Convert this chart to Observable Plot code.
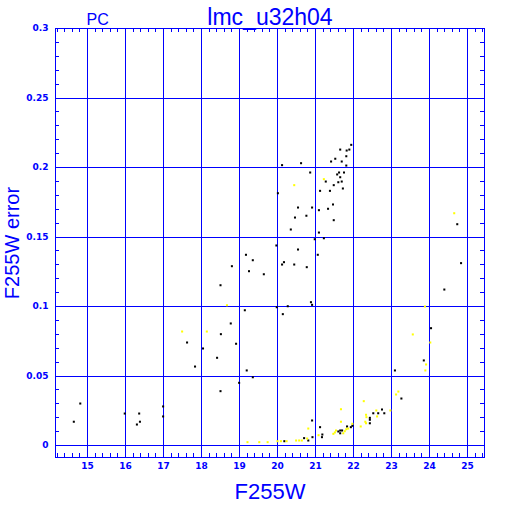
<!DOCTYPE html>
<html><head><meta charset="utf-8">
<script src="https://cdn.jsdelivr.net/npm/d3@7"></script>
<script src="https://cdn.jsdelivr.net/npm/@observablehq/plot@0.6"></script>
<style>body{margin:0;background:#fff}#chart svg{display:block}</style>
</head><body><div id="chart"></div>
<script>
// ---- data ----
const title = "lmc_u32h04";
const cornerLabel = "PC";
const xLabel = "F255W";
const yLabel = "F255W error";

const xTicks = [15, 16, 17, 18, 19, 20, 21, 22, 23, 24, 25];
const yTicks = [0, 0.05, 0.1, 0.15, 0.2, 0.25, 0.3];

// black points: magnitude and error
const blackMag = [21.94, 21.89, 21.82, 21.65, 21.81, 21.52, 21.41, 21.69, 21.81, 20.62,
  20.12, 20.86, 21.62, 21.75, 21.57, 21.65, 21.27, 21.60, 21.69, 21.48,
  21.72, 21.12, 21.38, 20.01, 21.46, 20.91, 20.54, 21.33, 21.09, 20.76,
  20.46, 21.48, 20.35, 21.09, 20.98, 21.22, 19.97, 20.54, 19.17, 19.35,
  21.06, 20.17, 20.12, 20.44, 20.77, 18.80, 19.25, 19.64, 18.50, 20.88,
  20.91, 19.98, 20.27, 19.14, 20.14, 18.77, 18.51, 18.91, 17.62, 18.04,
  18.41, 17.83, 18.50, 18.99, 14.81, 14.64, 15.98, 16.36, 16.38, 16.30,
  16.99, 16.99, 24.73, 24.83, 24.39, 24.04, 23.85, 23.09, 23.26, 22.75,
  22.81, 19.19, 19.35, 22.52, 22.65, 22.43, 22.43, 22.43, 20.91, 21.12,
  21.18, 21.17, 20.70, 20.81, 20.92, 20.18, 21.60, 21.65, 21.70, 21.65,
  21.83, 21.93, 21.97];
const blackErr = [0.2163, 0.2129, 0.2122, 0.2129, 0.2081, 0.2063, 0.2043, 0.2043, 0.2014, 0.2031,
  0.2017, 0.1964, 0.1964, 0.1964, 0.1950, 0.1930, 0.1899, 0.1894, 0.1899, 0.1873,
  0.1849, 0.1832, 0.1832, 0.1815, 0.1734, 0.1712, 0.1712, 0.1703, 0.1693, 0.1653,
  0.1640, 0.1621, 0.1554, 0.1532, 0.1484, 0.1491, 0.1439, 0.1410, 0.1372, 0.1333,
  0.1372, 0.1319, 0.1302, 0.1302, 0.1283, 0.1290, 0.1254, 0.1232, 0.1153, 0.1031,
  0.1012, 0.0995, 0.1002, 0.0973, 0.0945, 0.0878, 0.0801, 0.0732, 0.0741, 0.0698,
  0.0631, 0.0568, 0.0391, 0.0451, 0.0302, 0.0171, 0.0230, 0.0230, 0.0171, 0.0151,
  0.0281, 0.0209, 0.1592, 0.1312, 0.1122, 0.0844, 0.0612, 0.0540, 0.0338, 0.0259,
  0.0232, 0.0540, 0.0491, 0.0232, 0.0232, 0.0199, 0.0185, 0.0160, 0.0180, 0.0132,
  0.0079, 0.0060, 0.0053, 0.0036, 0.0060, 0.0031, 0.0101, 0.0108, 0.0108, 0.0088,
  0.0137, 0.0132, 0.0142];

// yellow points: magnitude and error
const yellowMag = [20.44, 21.22, 18.67, 17.49, 18.14, 24.65, 23.88, 23.56, 24.02, 23.91,
  23.89, 23.18, 23.12, 22.97, 22.27, 21.67, 21.67, 22.60, 22.33, 22.34,
  22.62, 22.31, 22.33, 22.19, 20.81, 21.08, 20.78, 20.49, 20.57, 20.64,
  20.00, 20.09, 20.24, 19.74, 19.52, 19.21, 21.47, 21.51, 21.54, 21.77,
  21.81, 21.86, 21.97, 21.73];
const yellowErr = [0.1873, 0.1916, 0.1009, 0.0820, 0.0820, 0.1671, 0.1000, 0.0799, 0.0741, 0.0583,
  0.0540, 0.0388, 0.0367, 0.0252, 0.0319, 0.0261, 0.0171, 0.0252, 0.0221, 0.0204,
  0.0209, 0.0171, 0.0160, 0.0137, 0.0122, 0.0074, 0.0050, 0.0036, 0.0036, 0.0036,
  0.0031, 0.0031, 0.0031, 0.0024, 0.0024, 0.0024, 0.0084, 0.0094, 0.0108, 0.0103,
  0.0117, 0.0122, 0.0156, 0.0088];

// ---- build ----
const blue = "#0000ff";
const blackPts = blackMag.map((m, i) => ({mag: m, err: blackErr[i]}));
const yellowPts = yellowMag.map((m, i) => ({mag: m, err: yellowErr[i]}));
const xMinor = d3.range(71, 128).map(i => i / 5);
const yMinor = d3.range(0, 31).map(i => i / 100);

const W = 512, H = 512, mL = 55, mR = 28, mT = 28, mB = 55;
const innerW = W - mL - mR, innerH = H - mT - mB;
const tickLen = 4;
const line = {stroke: blue, strokeOpacity: 1, strokeWidth: 1, shapeRendering: "crispEdges"};

const chart = Plot.plot({
  width: W, height: H,
  marginLeft: mL, marginRight: mR, marginTop: mT, marginBottom: mB,
  style: {color: blue, background: "#fff", fontFamily: "'Liberation Sans', sans-serif"},
  x: {domain: [14.158, 25.447]},
  y: {domain: [-0.00863, 0.3]},
  marks: [
    Plot.gridX(xTicks, {...line}),
    Plot.gridY(yTicks, {...line}),
    Plot.ruleX(xMinor, {x: d => d, ...line, insetTop: innerH - tickLen}),
    Plot.ruleX(xMinor, {x: d => d, ...line, insetBottom: innerH - tickLen}),
    Plot.ruleY(yMinor, {y: d => d, ...line, insetRight: innerW - tickLen}),
    Plot.ruleY(yMinor, {y: d => d, ...line, insetLeft: innerW - tickLen}),
    Plot.frame({...line}),
    Plot.axisX(xTicks, {anchor: "bottom", tickSize: 0, tickPadding: 5, fontSize: 9, fontWeight: "bold",
      fontFamily: "DejaVu Sans", fill: blue, label: null, tickFormat: d => String(d)}),
    Plot.axisY(yTicks, {anchor: "left", tickSize: 0, tickPadding: 7, fontSize: 9, fontWeight: "bold",
      fontFamily: "DejaVu Sans", fill: blue, label: null, tickFormat: d => String(d)}),
    Plot.dot(blackPts, {x: "mag", y: "err", symbol: "square", r: 1.15, fill: "#000", stroke: null}),
    Plot.dot(yellowPts, {x: "mag", y: "err", symbol: "square", r: 1.15, fill: "#ffff00", stroke: null}),
    Plot.text([title], {text: d => d, frameAnchor: "top", lineAnchor: "bottom", dy: -4,
      fontSize: 23, fill: blue}),
    Plot.text([cornerLabel], {text: d => d, frameAnchor: "top-left", textAnchor: "start", lineAnchor: "bottom",
      dx: 31, dy: -4, fontSize: 16, fill: blue}),
    Plot.text([xLabel], {text: d => d, frameAnchor: "bottom", lineAnchor: "bottom", dy: 41,
      fontSize: 22, fill: blue}),
    Plot.text([yLabel], {text: d => d, frameAnchor: "left", textAnchor: "middle", rotate: -90, lineAnchor: "middle",
      dx: -43, fontSize: 20, fill: blue})
  ]
});
document.getElementById("chart").appendChild(chart);
</script>
</body></html>
